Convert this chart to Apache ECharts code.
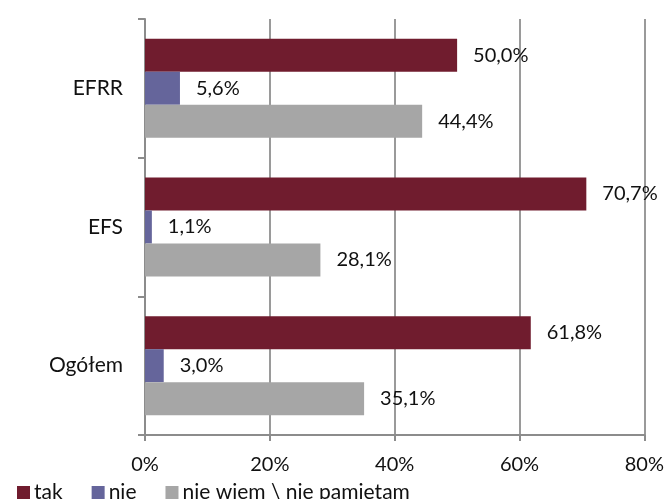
<!DOCTYPE html>
<html>
<head>
<meta charset="utf-8">
<script src="https://cdn.jsdelivr.net/npm/echarts@6/dist/echarts.min.js"></script>
<style>
html,body{margin:0;padding:0;background:#fff;}
#c{width:667px;height:499px;}
</style>
</head>
<body>
<div id="c"></div>
<script>
var categories = ['EFRR', 'EFS', 'Ogółem'];
var seriesNames = ['tak', 'nie', 'nie wiem \\ nie pamiętam'];
var takValues = [50.0, 70.7, 61.8];
var nieValues = [5.6, 1.1, 3.0];
var nieWiemValues = [44.4, 28.1, 35.1];
var xTicks = [0, 20, 40, 60, 80];

var colors = ['#701C2E', '#65659B', '#A6A6A6'];
var FONT = 'Lato';

function fmt(v){ return v.toFixed(1).replace('.', ',') + '%'; }

function mkSeries(name, data, color){
  return {
    name: name,
    type: 'bar',
    data: data,
    barWidth: 33,
    barGap: '0%',
    itemStyle: { color: color },
    label: {
      show: true,
      position: 'right',
      distance: 16,
      color: '#111',
      fontFamily: FONT,
      fontSize: 20,
      formatter: function(p){ return fmt(p.value); }
    }
  };
}

var chart = echarts.init(document.getElementById('c'), null, {renderer: 'canvas'});
chart.setOption({
  animation: false,
  color: colors,
  grid: { left: 145, right: 21, top: 19, bottom: 64, containLabel: false },
  legend: {
    data: seriesNames,
    left: 12,
    top: 477,
    itemWidth: 13,
    itemHeight: 13,
    itemGap: 29,
    icon: 'rect',
    textStyle: { fontFamily: FONT, fontSize: 21, color: '#111', padding: [0, 0, 0, -1] }
  },
  xAxis: {
    type: 'value',
    min: xTicks[0],
    max: xTicks[xTicks.length - 1],
    interval: xTicks[1] - xTicks[0],
    axisLine: { show: true, lineStyle: { color: '#8C8C8C', width: 2 } },
    axisTick: { show: true, length: 6, lineStyle: { color: '#8C8C8C', width: 2 } },
    splitLine: { show: true, lineStyle: { color: '#9A9A9A', width: 2 } },
    axisLabel: { formatter: '{value}%', fontFamily: FONT, fontSize: 20, color: '#111', margin: 20 }
  },
  yAxis: {
    type: 'category',
    data: categories,
    inverse: true,
    axisLine: { show: true, lineStyle: { color: '#8C8C8C', width: 2 } },
    axisTick: { show: true, length: 7, lineStyle: { color: '#8C8C8C', width: 2 } },
    axisLabel: { fontFamily: FONT, fontSize: 21, color: '#111', margin: 22 }
  },
  series: [
    mkSeries(seriesNames[0], takValues, colors[0]),
    mkSeries(seriesNames[1], nieValues, colors[1]),
    mkSeries(seriesNames[2], nieWiemValues, colors[2])
  ]
});
</script>
</body>
</html>
